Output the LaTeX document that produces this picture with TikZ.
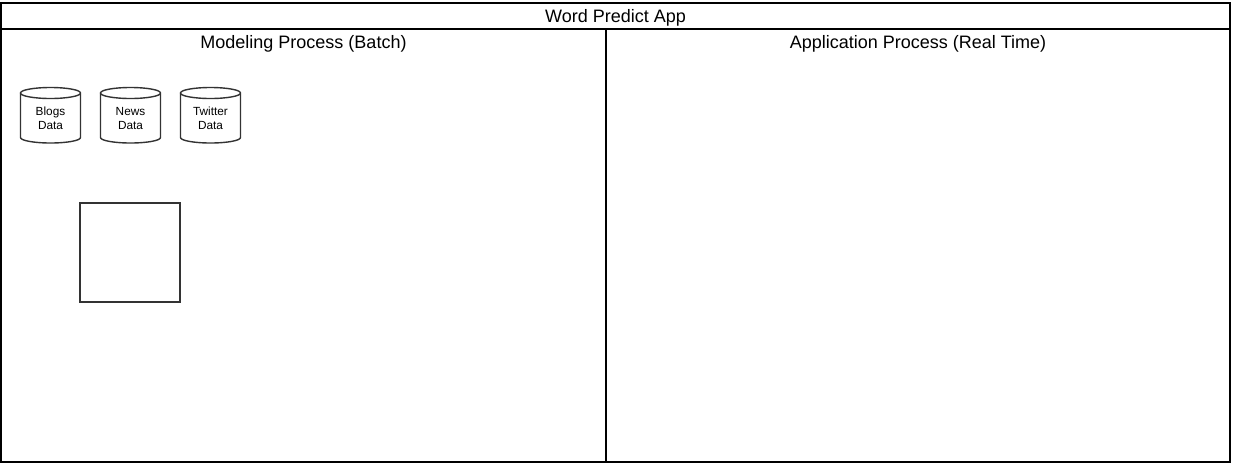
\documentclass[tikz,border=0pt]{standalone}
\usepackage{fontspec}
\setmainfont{Liberation Sans}
\usetikzlibrary{calc}
\begin{document}
\begin{tikzpicture}[x=1pt,y=-1pt,
  frame/.style={draw=black, line width=2pt, inner sep=0pt, outer sep=0pt, anchor=north west},
  heading/.style={font=\fontsize{18}{21}\selectfont, anchor=base, inner sep=0pt},
  store/.style={align=center, inner sep=0pt, font=\fontsize{11.8}{13.5}\selectfont},
  cyl/.style={draw=black!80, line width=1.4pt},
  procbox/.style={draw=black!80, line width=1.6pt, minimum width=100pt, minimum height=99pt, inner sep=0pt}]
\useasboundingbox (0,0) rectangle (1233,467);
% outer frame and lanes
\node[frame, minimum width=1229pt, minimum height=459pt] (app) at (1,3) {};
\node[frame, minimum width=1229pt, minimum height=26pt] (titlebar) at (1,3) {};
\node[frame, minimum width=605pt, minimum height=433pt] (model) at (1,29) {};
\node[frame, minimum width=624pt, minimum height=433pt] (apply) at (606,29) {};
% headings
\node[heading] (apptitle) at (615.5,22) {Word Predict App};
\node[heading] (modeltitle) at (303.5,48.5) {Modeling Process (Batch)};
\node[heading] (applytitle) at (918,48.5) {Application Process (Real Time)};
% data stores
\node[store] (blogs) at (50.5,118.5) {Blogs\\Data};
\node[store] (news) at (130.5,118.5) {News\\Data};
\node[store] (twitter) at (210.5,118.5) {Twitter\\Data};
\foreach \n in {blogs,news,twitter} {
  \draw[cyl] ($(\n.center)+(-30,-25.5)$) -- ($(\n.center)+(-30,19)$)
    arc[start angle=180,end angle=360,x radius=30pt,y radius=5.5pt]
    -- ($(\n.center)+(30,-25.5)$)
    arc[start angle=0,end angle=180,x radius=30pt,y radius=5.5pt]
    arc[start angle=180,end angle=360,x radius=30pt,y radius=5.5pt];
}
% empty process box
\node[procbox] (proc) at (130,252.5) {};
\end{tikzpicture}
\end{document}
